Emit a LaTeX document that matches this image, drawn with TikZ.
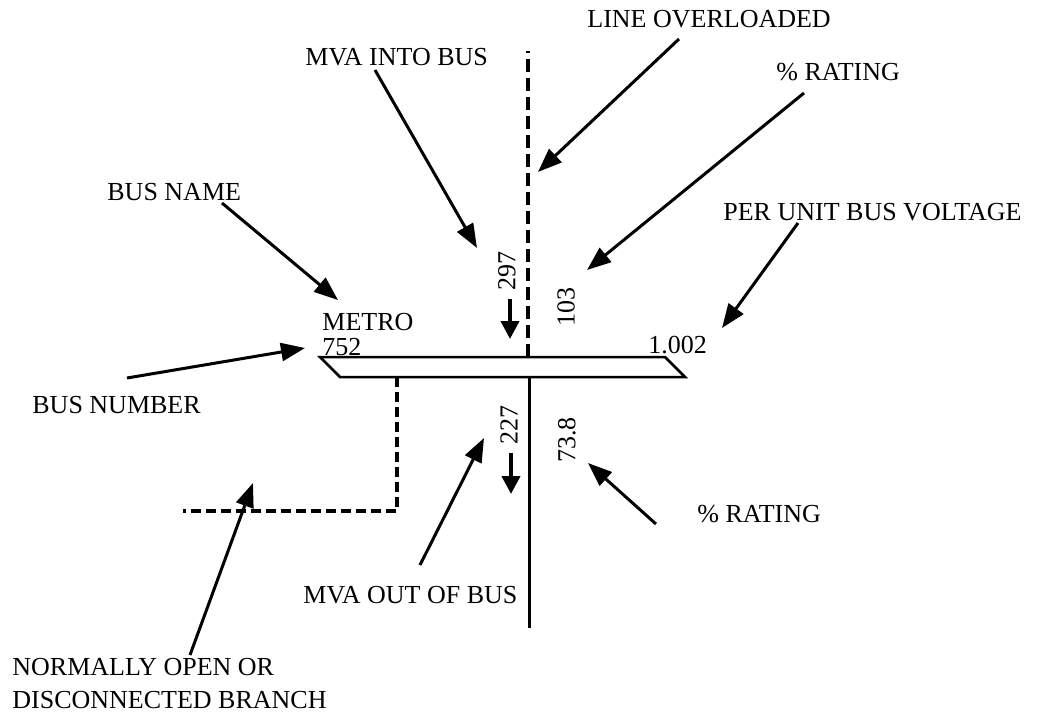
\documentclass[tikz,border=0pt]{standalone}
\usepackage{fontspec}
\setmainfont{Liberation Serif}
\usetikzlibrary{arrows.meta}
\begin{document}
\begin{tikzpicture}[x=0.5pt,y=-0.5pt,
  lbl/.style={anchor=base west, inner sep=0pt, font=\fontsize{13}{15}\selectfont},
  num/.style={rotate=90, inner sep=0pt, font=\fontsize{13}{15}\selectfont},
  pointer/.style={line width=1.5pt, -{Triangle[length=12pt,width=9pt]}},
  flow/.style={line width=2pt, -{Triangle[length=9pt,width=9pt]}},
  busline/.style={line width=1.25pt},
  branch/.style={line width=1.5pt},
  openbranch/.style={line width=1.8pt, dash pattern=on 5pt off 2.5pt},
  overload/.style={line width=1.8pt, dash pattern=on 6.5pt off 3pt}
]
\useasboundingbox (0,0) rectangle (1040,720);

% bus bar
\coordinate (b1) at (320,357);
\coordinate (b2) at (665,357);
\coordinate (b3) at (685,377);
\coordinate (b4) at (340,377);
\draw[busline, line join=miter] (b1) -- (b2) -- (b3) -- (b4) -- cycle;

% branches
\coordinate (lineTop) at (528,51);
\coordinate (lineIn) at (528,357);
\draw[overload] (lineIn) -- (lineTop);
\coordinate (lineOutTop) at (529,377);
\coordinate (lineOutEnd) at (529,628);
\draw[branch] (lineOutTop) -- (lineOutEnd);
\coordinate (openTop) at (397,377);
\coordinate (openCorner) at (397,511);
\coordinate (openEnd) at (183,511);
\draw[openbranch] (openTop) -- (openCorner) -- (openEnd);

% bus data
\node[lbl] (busname) at (322,330) {METRO};
\node[lbl] (busnum) at (322,355) {752};
\node[lbl] (busvolt) at (648,353) {1.002};

% flows and loadings
\node[num] (mvain) at (507,271) {297};
\node[num] (loadin) at (566,307) {103};
\node[num] (mvaout) at (509,425) {227};
\node[num] (loadout) at (567,440) {73.8};
\coordinate (fin1) at (510,299);
\coordinate (fin2) at (510,339);
\draw[flow] (fin1) -- (fin2);
\coordinate (fout1) at (511,453);
\coordinate (fout2) at (511,494);
\draw[flow] (fout1) -- (fout2);

% callouts
\node[lbl] (tOverload) at (587,27) {LINE OVERLOADED};
\node[lbl] (tMvaIn) at (305,65) {MVA INTO BUS};
\node[lbl] (tRatingTop) at (776,80) {\% RATING};
\node[lbl] (tBusName) at (107,200) {BUS NAME};
\node[lbl] (tVolt) at (723,220) {PER UNIT BUS VOLTAGE};
\node[lbl] (tBusNum) at (32,413) {BUS NUMBER};
\node[lbl] (tRatingLow) at (697,522) {\% RATING};
\node[lbl] (tMvaOut) at (303,603) {MVA OUT OF BUS};
\node[lbl] (tOpenA) at (12,675) {NORMALLY OPEN OR};
\node[lbl] (tOpenB) at (12,708) {DISCONNECTED BRANCH};

\coordinate (aOverload0) at (679,39);
\coordinate (aOverload1) at (538,172);
\coordinate (aMvaIn0) at (375,70);
\coordinate (aMvaIn1) at (477,248);
\coordinate (aRatingTop0) at (804,93);
\coordinate (aRatingTop1) at (587,270);
\coordinate (aBusName0) at (222,203);
\coordinate (aBusName1) at (338,300);
\coordinate (aVolt0) at (798,223);
\coordinate (aVolt1) at (722,328);
\coordinate (aBusNum0) at (127,378);
\coordinate (aBusNum1) at (305,348);
\coordinate (aRatingLow0) at (656,524);
\coordinate (aRatingLow1) at (588,463);
\coordinate (aMvaOut0) at (420,565);
\coordinate (aMvaOut1) at (484,438);
\coordinate (aOpen0) at (190,655);
\coordinate (aOpen1) at (253,483);

\draw[pointer] (aOverload0) -- (aOverload1);
\draw[pointer] (aMvaIn0) -- (aMvaIn1);
\draw[pointer] (aRatingTop0) -- (aRatingTop1);
\draw[pointer] (aBusName0) -- (aBusName1);
\draw[pointer] (aVolt0) -- (aVolt1);
\draw[pointer] (aBusNum0) -- (aBusNum1);
\draw[pointer] (aRatingLow0) -- (aRatingLow1);
\draw[pointer] (aMvaOut0) -- (aMvaOut1);
\draw[pointer] (aOpen0) -- (aOpen1);
\end{tikzpicture}
\end{document}
